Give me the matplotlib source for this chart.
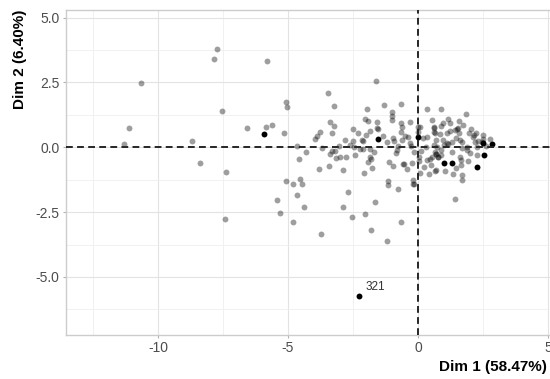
import matplotlib
matplotlib.use("Agg")
import matplotlib.pyplot as plt
from matplotlib.ticker import MultipleLocator

# ---------------------------------------------------------------
# Individuos PCA (coordenadas)
# ---------------------------------------------------------------
gris_x = [-10.65, -11.12, -11.31, -8.69, -8.38, -7.85, -7.73, -7.54, -7.38, -7.42,
          -6.58, -5.81, -5.85, -5.62, -5.08, -5.04, -5.15,
          -3.46, -3.23, -4.65, -4.31, -4.58, -3.96, -3.88, -3.77, -3.69, -3.38,
          -3.23, -3.31, -3.81, -3.42, -3.38, -3.15, -3.00, -2.77, -2.88, -2.81,
          -2.50, -2.50, -5.08, -4.81, -4.54, -4.46, -5.42, -4.65, -5.31, -4.38,
          -4.81, -3.73, -2.69, -2.88, -2.54, -2.04, -1.65, -1.81, -1.19, -0.65,
          -0.77, -1.15, -1.15, 1.42, -1.62, -1.96, -1.31, -0.65, -1.00, -1.00,
          -1.00, -0.31, -0.65, -0.62, -0.65, -2.04, -1.92, -1.58, -1.58, -1.55,
          -1.85, -2.15, -2.12, -2.00, -1.19, -0.96, -0.92, -0.62, -0.31, 0.00,
          0.00, -3.31, -3.19, -2.46, -2.12, -1.85, -2.23, -1.85, -1.81, -1.92,
          -1.77, -2.08, -2.42, -0.96, -0.85, -0.58, -0.55, -0.42, -0.23, -0.15,
          -0.27, -0.19, -0.17, -0.19, 0.08, 0.04, 0.04,
          0.35, 0.88, 1.85, 1.15, 0.54, 1.58, 0.96, 0.88, 0.62, 0.60, 0.62,
          0.64, 0.08, 1.54, 1.52, 1.58, 1.23, 1.96, 2.23, 2.15, 2.50, 1.46, 1.62,
          1.31, 1.12, 0.35, 0.69, 0.73, 2.19, 2.27, 1.88, 1.69, 0.31, 0.12, 0.65,
          0.88, 0.69, 0.71, 0.77, 0.79, 0.54, 0.35, 0.42, 0.65, 0.69, 1.04, 1.35,
          1.62, 1.65, 1.65, 1.69, 1.69, 1.92, 2.27, 2.00, 1.15, 2.77, 0.85, 1.23,
          1.42, 2.50, 2.45, 1.00, 0.45, 2.30,
          -2.60, -1.35, -0.80, -0.40, 0.20, 0.50, 0.95, 1.30, 1.75, 2.05,
          -1.70, -0.75, 0.25, 1.10, 1.90, -2.30, -1.10, 0.60, 1.45, 2.10,
          -3.05, -0.50, 0.90, 1.70, 2.60]
gris_y = [2.47, 0.73, 0.12, 0.23, -0.62, 3.40, 3.78, 1.39, -0.97, -2.78,
          0.73, 3.32, 0.77, 0.85, 1.74, 1.54, 0.54,
          2.08, 1.58, 0.04, -0.19, -0.46, 0.31, 0.42, 0.58, -0.04, 0.97,
          0.81, 0.54, -0.85, -0.73, -0.27, -0.42, -0.39, -0.39, -0.89, 0.27,
          0.23, 0.69, -1.31, -1.43, -1.24, -1.43, -2.05, -1.85, -2.55, -2.32,
          -2.90, -3.36, -1.74, -2.32, -2.70, -2.59, -2.12, -3.20, -3.63, -2.90,
          -1.62, -1.31, -1.47, -2.01, 2.55, 1.47, 1.62, 1.66, 1.35, 1.20,
          1.04, 0.97, 0.93, 0.77, 0.58, 1.08, 1.00, 0.97, 0.73, 0.70,
          0.62, 0.27, 0.24, 0.46, 0.19, 0.35, 0.23, 0.27, 0.15, 0.77,
          0.58, -0.15, -0.15, 0.00, -0.08, -0.39, -0.08, -0.08, -0.46, -0.58,
          -0.81, -1.00, -0.31, -0.73, -0.23, -0.66, -0.64, -0.85, -0.62, -0.19,
          0.04, -1.43, -1.40, -1.27, -1.00, -0.39, -0.54,
          1.47, 1.47, 1.27, 1.08, 1.04, 1.00, 0.93, 0.81, 0.77, 0.75, 0.58,
          0.56, 0.77, 0.73, 0.71, 0.54, 0.62, 0.54, 0.54, 0.46, 0.46, 0.35, 0.27,
          0.19, 0.15, 0.39, 0.27, 0.00, 0.19, 0.00, 0.00, -0.04, 0.00, -0.15, -0.19,
          -0.31, -0.27, -0.25, -0.39, -0.37, -0.39, -0.50, -1.04, -0.93, -0.89, -0.93, -1.04,
          -0.39, -0.50, -0.69, -1.08, -1.27, -0.54, -0.31, -0.23, 0.12, 0.31, 0.50, 0.93,
          0.66, 0.33, 0.20, 0.10, -0.45, 0.25,
          0.10, 0.45, -0.10, 0.40, 0.35, -0.70, 0.30, -0.20, 0.85, 0.70,
          -0.20, 0.05, -0.75, 0.55, -0.10, 0.55, -0.55, 0.10, -0.80, 0.40,
          0.05, 0.45, -0.10, 0.20, 0.05]

negro_x = [-5.92, -1.54, 0.00, 2.50, 2.85, 2.54, 2.27, 1.00, 1.31, -2.27]
negro_y = [0.50, 0.31, 0.39, 0.15, 0.12, -0.31, -0.77, -0.62, -0.62, -5.75]

etiqueta = "321"
etiqueta_x, etiqueta_y = -2.27, -5.75

eje_x = "Dim 1 (58.47%)"
eje_y = "Dim 2 (6.40%)"

# ---------------------------------------------------------------
# Figura
# ---------------------------------------------------------------
plt.rcParams['font.family'] = ['Liberation Sans', 'DejaVu Sans']

fig = plt.figure(figsize=(5.5, 3.79), dpi=100)
ax = fig.add_axes([0.12, 0.116, 0.88, 0.858])

ax.set_xlim(-13.54, 5.08)
ax.set_ylim(-7.24, 5.30)

ax.xaxis.set_minor_locator(MultipleLocator(2.5))
ax.yaxis.set_minor_locator(MultipleLocator(1.25))
ax.set_xticks([-10, -5, 0, 5])
ax.set_xticklabels(["-10", "-5", "0", "5"])
ax.set_yticks([-5, -2.5, 0, 2.5, 5])
ax.set_yticklabels(["-5.0", "-2.5", "0.0", "2.5", "5.0"])

ax.grid(True, which='major', color='#e3e3e3', lw=0.8, zorder=0)
ax.grid(True, which='minor', color='#efefef', lw=0.6, zorder=0)
ax.set_axisbelow(True)

for lado in ['left', 'bottom', 'top']:
    ax.spines[lado].set_color('#cccccc')
    ax.spines[lado].set_linewidth(1.0)
ax.spines['right'].set_visible(False)

ax.tick_params(which='major', length=2.5, width=0.8, color='#b3b3b3',
               labelsize=10, labelcolor='#4d4d4d', pad=2)
ax.tick_params(which='minor', length=0)

# puntos
ax.scatter(gris_x, gris_y, s=18, color='black', alpha=0.38, linewidths=0, zorder=2)
ax.scatter(negro_x, negro_y, s=18, color='black', linewidths=0, zorder=3)

# lineas de referencia
ax.axhline(0, color='#262626', lw=1.4, dashes=(3.5, 2.2), zorder=4)
ax.axvline(0, color='#262626', lw=1.4, dashes=(3.5, 2.2), zorder=4)

ax.annotate(etiqueta, xy=(etiqueta_x, etiqueta_y), xytext=(12, 7),
            textcoords='offset points', ha='center', va='center',
            fontsize=8.5, color='#333333')

# titulos de ejes (estilo ggplot)
fig.text(0.995, 0.032, eje_x, ha='right', va='center', fontsize=11,
         fontweight='bold')
fig.text(0.037, 0.974, eje_y, ha='center', va='top', rotation=90,
         fontsize=11, fontweight='bold')

fig.savefig("out.png", dpi=100)
